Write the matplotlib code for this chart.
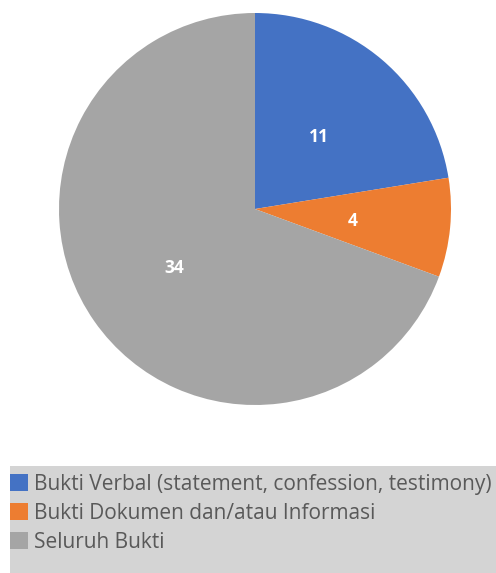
import matplotlib
matplotlib.use("Agg")
import matplotlib.pyplot as plt
from matplotlib.patches import Patch, Rectangle

labels = ["Bukti Verbal (statement, confession, testimony)",
          "Bukti Dokumen dan/atau Informasi",
          "Seluruh Bukti"]
values = [11, 4, 34]
colors = ["#4472C4", "#ED7D31", "#A5A5A5"]

W, H = 496, 573
fig = plt.figure(figsize=(W/100, H/100), dpi=100)
cx, cy, r = 255, 209, 196
ax = fig.add_axes([(cx - r)/W, (H - cy - r)/H, 2*r/W, 2*r/H])
wedges, texts = ax.pie(values, colors=colors, startangle=90, counterclock=False,
                       labels=[str(v) for v in values], labeldistance=0.5,
                       textprops=dict(color="white", fontweight="bold", fontsize=12.5,
                                      family="Open Sans"),
                       wedgeprops=dict(linewidth=0))
for t in texts:
    t.set_ha("center")
    t.set_va("center")
    x, y = t.get_position()
    t.set_position((x, y - 0.015))
ax.set_xlim(-1, 1)
ax.set_ylim(-1, 1)
ax.set_aspect("auto")

fig.patches.append(Rectangle((10/W, 0), 1 - 10/W, (H - 466)/H,
                             transform=fig.transFigure, facecolor="#D4D4D4",
                             edgecolor="none", zorder=0))

handles = [Patch(facecolor=c, edgecolor="none") for c in colors]
leg = fig.legend(handles, labels, loc="upper left",
                 bbox_to_anchor=(10/W, (H - 474)/H),
                 frameon=False,
                 prop=dict(family="Open Sans", size=15),
                 labelcolor="#595959", handlelength=0.85, handleheight=0.85,
                 handletextpad=0.3, labelspacing=0.38, borderpad=0,
                 borderaxespad=0)
fig.savefig("out.png", dpi=100)
